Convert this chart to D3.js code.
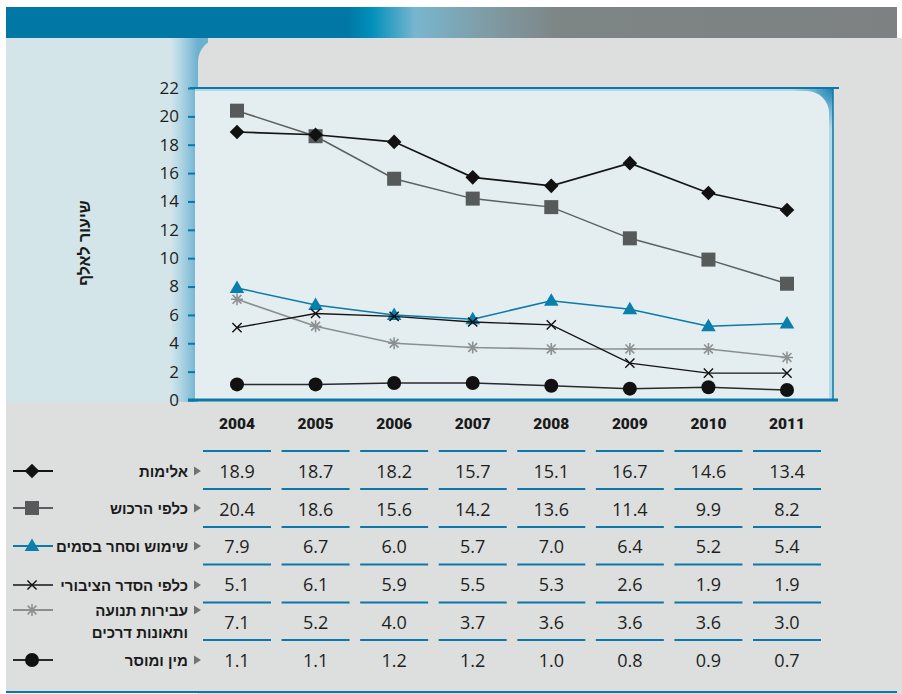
<!DOCTYPE html>
<html lang="he">
<head>
<meta charset="utf-8">
<script src="https://cdn.jsdelivr.net/npm/d3@7"></script>
<style>
  html, body { margin: 0; padding: 0; background: #ffffff; }
  svg { display: block; }
</style>
</head>
<body>
<svg id="chart" width="902" height="694"></svg>
<script>
// ---------------- DATA ----------------
const years = ["2004", "2005", "2006", "2007", "2008", "2009", "2010", "2011"];
const violence      = [18.9, 18.7, 18.2, 15.7, 15.1, 16.7, 14.6, 13.4]; // אלימות
const property      = [20.4, 18.6, 15.6, 14.2, 13.6, 11.4, 9.9, 8.2];   // כלפי הרכוש
const drugs         = [7.9, 6.7, 6.0, 5.7, 7.0, 6.4, 5.2, 5.4];         // שימוש וסחר בסמים
const publicOrder   = [5.1, 6.1, 5.9, 5.5, 5.3, 2.6, 1.9, 1.9];         // כלפי הסדר הציבורי
const traffic       = [7.1, 5.2, 4.0, 3.7, 3.6, 3.6, 3.6, 3.0];         // עבירות תנועה ותאונות דרכים
const sexMorality   = [1.1, 1.1, 1.2, 1.2, 1.0, 0.8, 0.9, 0.7];         // מין ומוסר
const seriesLabels  = [["אלימות"], ["כלפי הרכוש"], ["שימוש וסחר בסמים"], ["כלפי הסדר הציבורי"], ["עבירות תנועה", "ותאונות דרכים"], ["מין ומוסר"]];
const yTicks = [0, 2, 4, 6, 8, 10, 12, 14, 16, 18, 20, 22];
const yTitle = "שיעור לאלף";

// ---------------- STYLE / LAYOUT ----------------
const BLUE = "#0a78a8";
const HEB = "'Liberation Sans', 'DejaVu Sans', Arial, sans-serif";
const NUM = "'Open Sans', 'Noto Sans', sans-serif";

const series = [
  { key: "property", values: property, line: "#5b5f5f", width: 1.5, marker: "square", fill: "#565a5a", row: 1 },
  { key: "violence", values: violence, line: "#141414", width: 1.6, marker: "diamond", fill: "#111111", row: 0 },
  { key: "drugs", values: drugs, line: "#0a7aa8", width: 1.5, marker: "triangle", fill: "#0a7fac", row: 2 },
  { key: "traffic", values: traffic, line: "#8b8e8e", width: 1.6, marker: "star", fill: "#8e9191", row: 4 },
  { key: "publicOrder", values: publicOrder, line: "#141414", width: 1.3, marker: "x", fill: "#111111", row: 3 },
  { key: "sex", values: sexMorality, line: "#2a2a2a", width: 1.5, marker: "circle", fill: "#111111", row: 5 }
];

const svg = d3.select("#chart");
const defs = svg.append("defs");

// banner gradient
const bg = defs.append("linearGradient").attr("id", "banner")
  .attr("gradientUnits", "userSpaceOnUse").attr("x1", 6).attr("x2", 897).attr("y1", 0).attr("y2", 0);
[[6, "#0077a4"], [347, "#0077a4"], [372, "#0090bb"], [415, "#78b6cf"], [480, "#7f9ea8"], [560, "#7e8585"], [897, "#7d8181"]]
  .forEach(([x, c]) => bg.append("stop").attr("offset", ((x - 6) / 891 * 100) + "%").attr("stop-color", c));

// left strip gradient
const sg = defs.append("linearGradient").attr("id", "strip")
  .attr("gradientUnits", "userSpaceOnUse").attr("x1", 170).attr("x2", 198).attr("y1", 0).attr("y2", 0);
[[0, "#d4e5ea"], [0.3, "#b9d9e5"], [0.7, "#8dc3da"], [1, "#6cb0d0"]]
  .forEach(([o, c]) => sg.append("stop").attr("offset", o * 100 + "%").attr("stop-color", c));

// plot corner gradient
const cg = defs.append("radialGradient").attr("id", "corner")
  .attr("gradientUnits", "userSpaceOnUse").attr("cx", 833).attr("cy", 88).attr("r", 40);
[[0, "#1a80b0"], [0.5, "#6fb3d1"], [1, "#b4d9e6"]]
  .forEach(([o, c]) => cg.append("stop").attr("offset", o * 100 + "%").attr("stop-color", c));

// ---------------- BACKGROUND ----------------
svg.append("rect").attr("x", 6).attr("y", 7).attr("width", 891).attr("height", 31).attr("fill", "url(#banner)");
svg.append("rect").attr("x", 6).attr("y", 38).attr("width", 891).attr("height", 655).attr("fill", "#dcdfde");
svg.append("rect").attr("x", 6).attr("y", 38).attr("width", 200).attr("height", 364).attr("fill", "#d4e5ea");
svg.append("rect").attr("x", 170).attr("y", 38).attr("width", 38).attr("height", 364).attr("fill", "url(#strip)");
svg.append("rect").attr("x", 198).attr("y", 38).attr("width", 800).attr("height", 800).attr("rx", 24).attr("fill", "#dcdfde");

// ---------------- SCALES ----------------
const x = d3.scalePoint().domain(years).range([237, 787]);
const y = d3.scaleLinear().domain([0, 22]).range([400, 88]);

// plot panel
const pL = 195, pR = 833, pT = y(22), pB = y(0);
svg.append("rect").attr("x", pL).attr("y", pT).attr("width", pR - pL).attr("height", pB - pT).attr("fill", "url(#corner)");
const r = 22, inT = pT + 3, inR = pR - 4;
svg.append("path")
  .attr("d", `M${pL},${inT} H${inR - r} A${r},${r} 0 0 1 ${inR},${inT + r} V${pB} H${pL} Z`)
  .attr("fill", "#e4eef0");
svg.append("line").attr("x1", pR).attr("x2", pR).attr("y1", pT).attr("y2", pB).attr("stroke", BLUE).attr("stroke-width", 1.5);
svg.append("line").attr("x1", 190).attr("x2", 839).attr("y1", pT).attr("y2", pT).attr("stroke", BLUE).attr("stroke-width", 2.2);

// y axis
const yAxis = svg.append("g").attr("transform", `translate(${pL},0)`)
  .call(d3.axisLeft(y).tickValues(yTicks).tickSize(7).tickPadding(9).tickFormat(d3.format("d")));
yAxis.select(".domain").remove();
yAxis.selectAll(".tick line").attr("stroke", BLUE).attr("stroke-width", 2);
yAxis.selectAll(".tick text").attr("fill", "#1e1e1e").style("font-family", NUM).style("font-size", "17px");

// bottom axis line
svg.append("line").attr("x1", 188).attr("x2", 838).attr("y1", pB).attr("y2", pB).attr("stroke", BLUE).attr("stroke-width", 3.2);

// y title
svg.append("text")
  .attr("transform", "translate(84,243) rotate(-90)")
  .attr("text-anchor", "middle").attr("dominant-baseline", "central")
  .attr("direction", "rtl")
  .style("font-family", HEB).style("font-weight", "bold").style("font-size", "16px")
  .attr("fill", "#1a1a1a").text(yTitle);

// ---------------- MARKERS ----------------
function drawMarker(g, type, cx, cy, fill) {
  if (type === "square") {
    g.append("rect").attr("x", cx - 7).attr("y", cy - 7).attr("width", 14).attr("height", 14).attr("fill", fill);
  } else if (type === "diamond") {
    g.append("path").attr("d", `M${cx},${cy - 7.3} L${cx + 7.3},${cy} L${cx},${cy + 7.3} L${cx - 7.3},${cy} Z`).attr("fill", fill);
  } else if (type === "triangle") {
    g.append("path").attr("d", `M${cx},${cy - 7.5} L${cx + 7.3},${cy + 5} L${cx - 7.3},${cy + 5} Z`).attr("fill", fill);
  } else if (type === "circle") {
    g.append("circle").attr("cx", cx).attr("cy", cy).attr("r", 7).attr("fill", fill);
  } else if (type === "x") {
    const s = 4.6;
    g.append("path").attr("d", `M${cx - s},${cy - s} L${cx + s},${cy + s} M${cx - s},${cy + s} L${cx + s},${cy - s}`)
      .attr("stroke", fill).attr("stroke-width", 1.4).attr("fill", "none");
  } else if (type === "star") {
    const s = 6, d = 4.4;
    g.append("path").attr("d", `M${cx},${cy - s} L${cx},${cy + s} M${cx - d},${cy - d} L${cx + d},${cy + d} M${cx - d},${cy + d} L${cx + d},${cy - d} M${cx - s},${cy} L${cx + s},${cy}`)
      .attr("stroke", fill).attr("stroke-width", 1.6).attr("fill", "none");
  }
}

// ---------------- LINES ----------------
const lineGen = d3.line().x((d, i) => x(years[i])).y(d => y(d));
series.forEach(s => {
  const g = svg.append("g");
  g.append("path").attr("d", lineGen(s.values)).attr("fill", "none").attr("stroke", s.line).attr("stroke-width", s.width);
  s.values.forEach((v, i) => drawMarker(g, s.marker, x(years[i]), y(v), s.fill));
});

// ---------------- TABLE ----------------
const headerY = 424;
const rowY = [471, 509, 546, 584, 622, 660];
const ruleY = [451, 489, 527, 564.5, 602.5, 640];
const half = 34;

svg.append("g").selectAll("text").data(years).join("text")
  .attr("x", d => x(d)).attr("y", headerY)
  .attr("text-anchor", "middle").attr("dominant-baseline", "central")
  .style("font-family", "Roboto, 'Noto Sans', sans-serif").style("font-weight", "900").style("font-size", "15.5px")
  .attr("fill", "#1a1a1a").text(d => d);

ruleY.forEach(ry => {
  svg.append("g").selectAll("line").data(years).join("line")
    .attr("x1", d => x(d) - half).attr("x2", d => x(d) + half)
    .attr("y1", ry).attr("y2", ry).attr("stroke", BLUE).attr("stroke-width", 2.2);
});

const rowsData = [violence, property, drugs, publicOrder, traffic, sexMorality];
rowsData.forEach((vals, ri) => {
  svg.append("g").selectAll("text").data(vals).join("text")
    .attr("x", (d, i) => x(years[i])).attr("y", rowY[ri])
    .attr("text-anchor", "middle").attr("dominant-baseline", "central")
    .style("font-family", NUM).style("font-size", "18px")
    .attr("fill", "#1e1e1e").text(d => d3.format(".1f")(d));
});

// legend (left column)
const legendRowY = [471, 508, 546, 585, 610, 660];
series.forEach(s => {
  const ly = legendRowY[s.row];
  const g = svg.append("g");
  g.append("line").attr("x1", 13).attr("x2", 53).attr("y1", ly).attr("y2", ly).attr("stroke", s.line).attr("stroke-width", s.width + 0.3);
  drawMarker(g, s.marker, 32, ly, s.fill);
  const lbl = seriesLabels[s.row];
  lbl.forEach((t, li) => {
    g.append("text").attr("x", 188).attr("y", ly + li * 22)
      .attr("text-anchor", "start").attr("direction", "rtl").attr("dominant-baseline", "central")
      .style("font-family", HEB).style("font-weight", "bold").style("font-size", "15px")
      .attr("fill", "#1a1a1a").text(t);
  });
  g.append("path").attr("d", `M194,${ly - 4.5} L201,${ly} L194,${ly + 4.5} Z`).attr("fill", "#707373");
});

// bottom rule
svg.append("line").attr("x1", 6).attr("x2", 897).attr("y1", 692).attr("y2", 692).attr("stroke", BLUE).attr("stroke-width", 2);
</script>
</body>
</html>
